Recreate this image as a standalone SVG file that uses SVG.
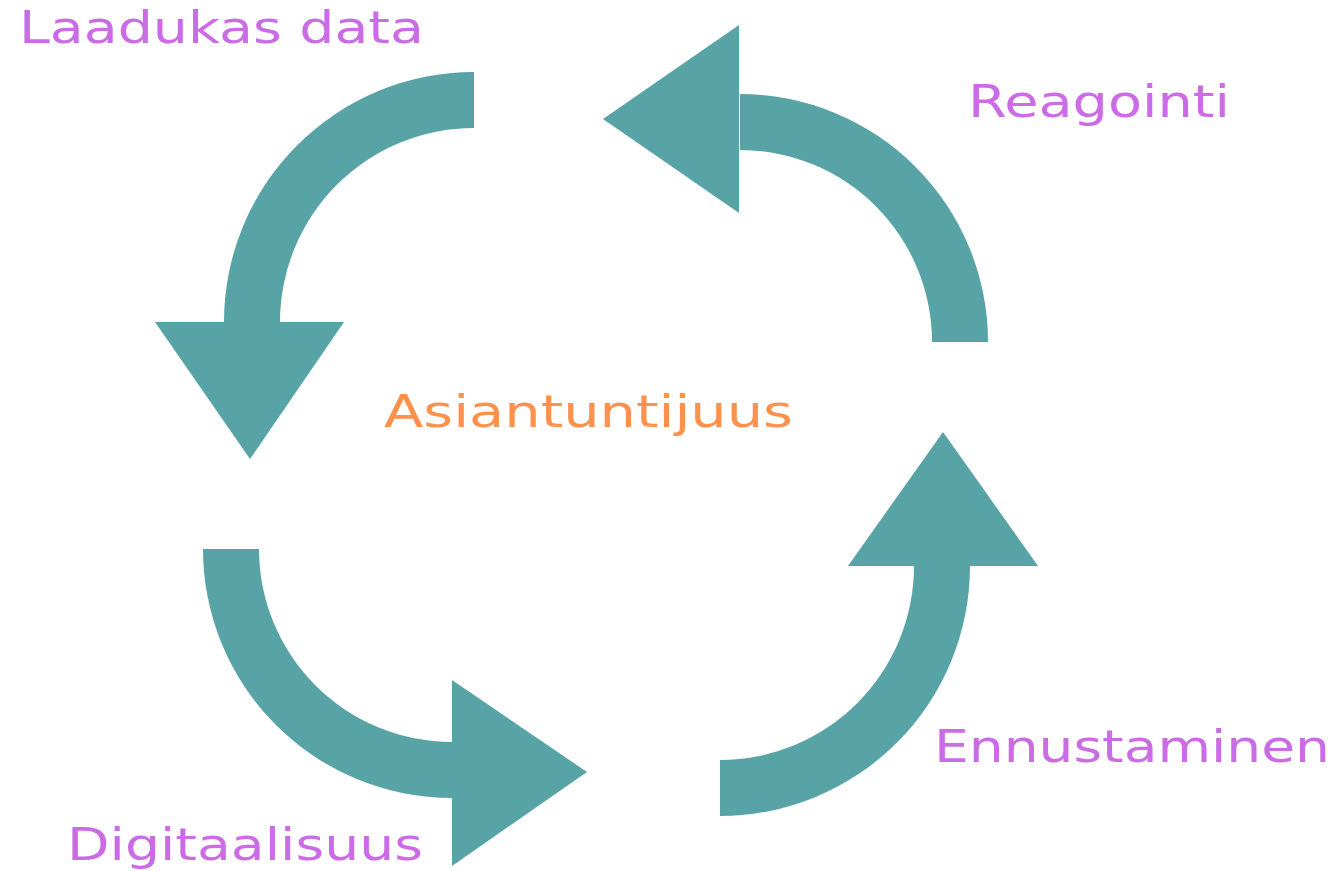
<svg xmlns="http://www.w3.org/2000/svg" width="1340" height="871" viewBox="0 0 1340 871">
<style>
.arrow{fill:#57A3A5}
.lbl{font-family:"DejaVu Sans","Liberation Sans",sans-serif;font-size:45px;fill:#CB6CE6}
.center{fill:#FF914D}
</style>
<rect width="1340" height="871" fill="#FFFFFF"/>
<g id="connectors">
<g id="arrow-top-left">
<path class="arrow" d="M474,72 A250,250 0 0 0 224,322 L280,322 A194,194 0 0 1 474,128 Z"/>
<polygon class="arrow" points="155,322 344,322 250,459"/>
</g>
<g id="arrow-top-right">
<path class="arrow" d="M988,342 A248,248 0 0 0 740,94 L740,150 A192,192 0 0 1 932,342 Z"/>
<polygon class="arrow" points="603,119 739,25 739,213"/>
</g>
<g id="arrow-bottom-left">
<path class="arrow" d="M203,549 A249,249 0 0 0 452,798 L452,742 A193,193 0 0 1 259,549 Z"/>
<polygon class="arrow" points="452,680 452,866 587,772"/>
</g>
<g id="arrow-bottom-right">
<path class="arrow" d="M720,816 A250,250 0 0 0 970,566 L914,566 A194,194 0 0 1 720,760 Z"/>
<polygon class="arrow" points="848,566 1038,566 943,432"/>
</g>
</g>
<g id="node-laadukas"><text class="lbl" x="19" y="43" textLength="405" lengthAdjust="spacingAndGlyphs">Laadukas data</text></g>
<g id="node-reagointi"><text class="lbl" x="968" y="117" textLength="262" lengthAdjust="spacingAndGlyphs">Reagointi</text></g>
<g id="node-asiantuntijuus"><text class="lbl center" x="384" y="427" textLength="409" lengthAdjust="spacingAndGlyphs">Asiantuntijuus</text></g>
<g id="node-ennustaminen"><text class="lbl" x="934" y="762" textLength="396" lengthAdjust="spacingAndGlyphs">Ennustaminen</text></g>
<g id="node-digitaalisuus"><text class="lbl" x="67" y="860" textLength="356" lengthAdjust="spacingAndGlyphs">Digitaalisuus</text></g>
</svg>
